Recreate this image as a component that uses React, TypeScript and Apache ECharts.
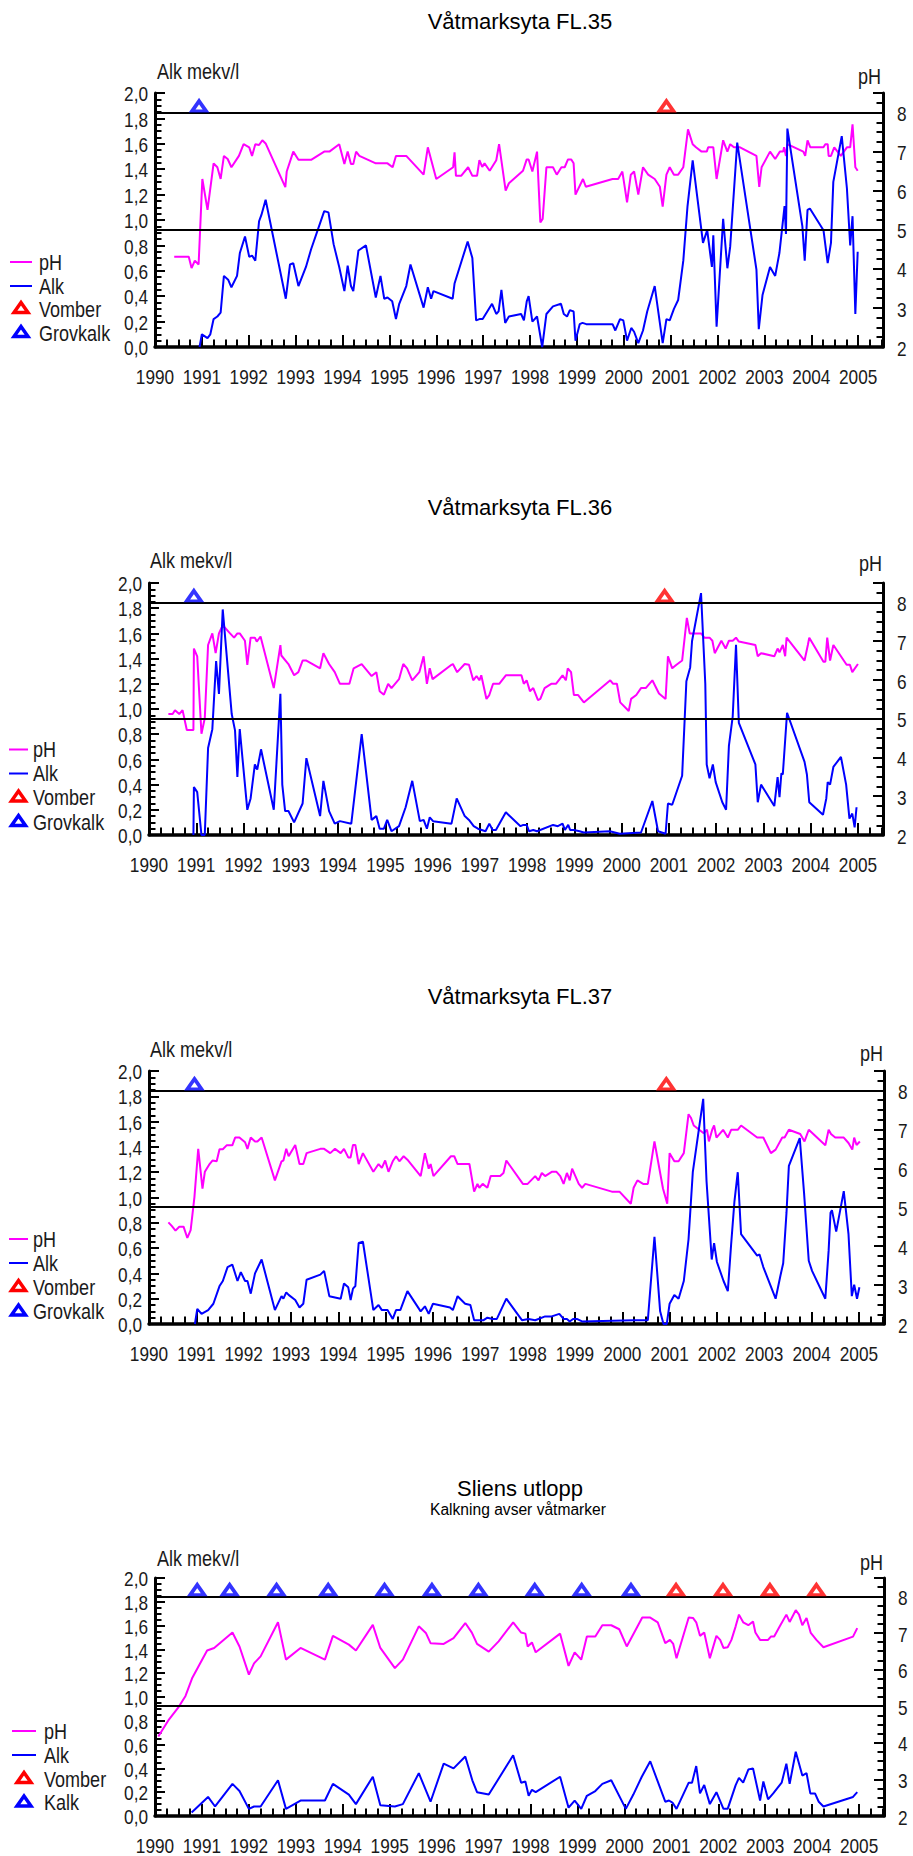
import React, { useEffect, useRef } from "react";
import * as echarts from "echarts";

// ---------- DATA ----------
const titles = ["Våtmarksyta FL.35", "Våtmarksyta FL.36", "Våtmarksyta FL.37", "Sliens utlopp"];
const subtitle4 = "Kalkning avser våtmarker";
const legendNames = [
  ["pH", "Alk", "Vomber", "Grovkalk"],
  ["pH", "Alk", "Vomber", "Grovkalk"],
  ["pH", "Alk", "Vomber", "Grovkalk"],
  ["pH", "Alk", "Vomber", "Kalk"],
];
const refLinesPH = [5, 8];
const yearTicks = [1990, 1991, 1992, 1993, 1994, 1995, 1996, 1997, 1998, 1999, 2000, 2001, 2002, 2003, 2004, 2005];
const alkTicks = [0, 0.2, 0.4, 0.6, 0.8, 1.0, 1.2, 1.4, 1.6, 1.8, 2.0];
const phTicks = [2, 3, 4, 5, 6, 7, 8];

const fl35_pH: [number, number][] = [[1990.41,4.31],[1990.72,4.31],[1990.78,4.02],[1990.85,4.21],[1990.93,4.11],[1991.01,6.30],[1991.12,5.51],[1991.25,6.70],[1991.33,6.60],[1991.40,6.30],[1991.47,6.89],[1991.55,6.81],[1991.63,6.60],[1991.79,6.89],[1991.89,7.19],[1992.01,7.11],[1992.07,6.89],[1992.14,7.19],[1992.22,7.17],[1992.29,7.29],[1992.36,7.21],[1992.78,6.09],[1992.81,6.49],[1992.95,7.00],[1993.06,6.79],[1993.33,6.79],[1993.61,7.00],[1993.72,7.00],[1993.93,7.19],[1994.04,6.68],[1994.11,7.00],[1994.18,6.68],[1994.23,6.68],[1994.29,7.00],[1994.36,6.89],[1994.71,6.70],[1994.96,6.70],[1995.07,6.60],[1995.14,6.89],[1995.36,6.89],[1995.73,6.41],[1995.82,7.11],[1996.00,6.30],[1996.36,6.60],[1996.39,6.98],[1996.42,6.38],[1996.53,6.38],[1996.68,6.60],[1996.77,6.38],[1996.87,6.38],[1996.92,6.78],[1996.98,6.61],[1997.03,6.70],[1997.14,6.51],[1997.28,6.78],[1997.34,7.19],[1997.48,6.00],[1997.55,6.19],[1997.85,6.51],[1997.93,6.80],[1997.97,6.80],[1998.05,6.49],[1998.15,7.00],[1998.22,5.19],[1998.27,5.28],[1998.35,6.60],[1998.49,6.60],[1998.57,6.41],[1998.67,6.60],[1998.74,6.60],[1998.81,6.80],[1998.88,6.80],[1998.93,6.70],[1998.97,5.90],[1999.13,6.30],[1999.19,6.10],[1999.76,6.30],[1999.88,6.30],[1999.97,6.49],[2000.07,5.70],[2000.15,6.41],[2000.22,6.49],[2000.31,5.90],[2000.41,6.60],[2000.52,6.41],[2000.66,6.30],[2000.77,6.10],[2000.83,5.59],[2000.91,6.41],[2000.98,6.60],[2001.07,6.41],[2001.16,6.41],[2001.27,6.60],[2001.37,7.57],[2001.47,7.19],[2001.54,7.11],[2001.66,7.00],[2001.77,7.00],[2001.80,7.11],[2001.91,7.11],[2001.98,6.30],[2002.12,7.29],[2002.21,7.00],[2002.27,7.19],[2002.35,7.11],[2002.48,7.11],[2002.83,6.89],[2002.89,6.10],[2002.94,6.60],[2003.12,7.00],[2003.23,6.81],[2003.33,7.00],[2003.40,7.00],[2003.42,7.11],[2003.46,6.89],[2003.49,7.19],[2003.83,7.00],[2003.87,6.89],[2003.92,7.29],[2003.98,7.11],[2004.26,7.11],[2004.30,7.19],[2004.35,7.19],[2004.37,6.89],[2004.42,6.89],[2004.49,7.11],[2004.63,6.89],[2004.76,7.11],[2004.83,7.11],[2004.88,7.70],[2004.94,6.60],[2004.99,6.51]];
const fl35_alk: [number, number][] = [[1990.95,0.00],[1991.00,0.10],[1991.12,0.07],[1991.18,0.10],[1991.25,0.22],[1991.33,0.24],[1991.40,0.27],[1991.47,0.56],[1991.56,0.53],[1991.63,0.47],[1991.75,0.56],[1991.81,0.74],[1991.92,0.87],[1992.01,0.71],[1992.07,0.72],[1992.14,0.68],[1992.22,0.99],[1992.27,1.04],[1992.36,1.16],[1992.79,0.38],[1992.88,0.65],[1992.95,0.66],[1993.06,0.48],[1993.22,0.63],[1993.33,0.77],[1993.61,1.07],[1993.70,1.06],[1993.81,0.81],[1993.93,0.63],[1994.04,0.44],[1994.11,0.64],[1994.18,0.48],[1994.23,0.44],[1994.34,0.76],[1994.50,0.80],[1994.71,0.39],[1994.81,0.56],[1994.89,0.38],[1994.96,0.39],[1995.06,0.36],[1995.14,0.22],[1995.21,0.34],[1995.36,0.48],[1995.45,0.65],[1995.73,0.31],[1995.82,0.47],[1995.89,0.38],[1995.94,0.44],[1996.35,0.38],[1996.39,0.50],[1996.67,0.83],[1996.77,0.70],[1996.85,0.21],[1996.92,0.22],[1996.99,0.22],[1997.19,0.34],[1997.28,0.26],[1997.33,0.28],[1997.39,0.45],[1997.47,0.19],[1997.55,0.24],[1997.81,0.26],[1997.87,0.21],[1997.93,0.36],[1997.97,0.40],[1998.05,0.20],[1998.15,0.24],[1998.26,0.00],[1998.35,0.26],[1998.49,0.32],[1998.66,0.34],[1998.72,0.26],[1998.79,0.24],[1998.85,0.29],[1998.93,0.28],[1998.97,0.05],[1999.06,0.18],[1999.12,0.19],[1999.20,0.18],[1999.76,0.18],[1999.82,0.13],[1999.92,0.22],[1999.99,0.21],[2000.07,0.05],[2000.16,0.15],[2000.22,0.12],[2000.31,0.03],[2000.41,0.13],[2000.50,0.28],[2000.66,0.48],[2000.83,0.03],[2000.91,0.22],[2000.98,0.21],[2001.07,0.30],[2001.16,0.37],[2001.27,0.68],[2001.36,1.11],[2001.47,1.47],[2001.69,0.82],[2001.78,0.92],[2001.88,0.63],[2001.91,0.88],[2001.98,0.16],[2002.12,1.01],[2002.21,0.62],[2002.27,0.79],[2002.42,1.61],[2002.83,0.61],[2002.88,0.14],[2002.96,0.41],[2003.12,0.63],[2003.23,0.56],[2003.32,0.74],[2003.43,1.11],[2003.46,0.89],[2003.49,1.72],[2003.81,0.95],[2003.86,0.68],[2003.92,1.08],[2003.97,1.09],[2004.26,0.92],[2004.35,0.66],[2004.42,0.82],[2004.47,1.30],[2004.65,1.66],[2004.76,1.25],[2004.83,0.80],[2004.88,1.03],[2004.94,0.26],[2004.99,0.75]];

const fl36_pH: [number, number][] = [[1990.41,5.12],[1990.50,5.12],[1990.55,5.22],[1990.64,5.12],[1990.71,5.22],[1990.80,4.71],[1990.94,4.71],[1990.95,6.81],[1991.02,6.61],[1991.11,4.61],[1991.18,5.01],[1991.25,6.90],[1991.34,7.20],[1991.41,6.69],[1991.48,7.20],[1991.56,7.41],[1991.70,7.22],[1991.80,7.09],[1991.87,7.20],[1991.92,7.20],[1992.03,7.01],[1992.08,6.39],[1992.15,7.09],[1992.24,7.09],[1992.28,6.99],[1992.36,7.12],[1992.64,5.79],[1992.78,6.90],[1992.80,6.63],[1992.95,6.41],[1993.07,6.12],[1993.16,6.20],[1993.25,6.50],[1993.33,6.50],[1993.62,6.30],[1993.69,6.69],[1993.81,6.41],[1993.93,6.20],[1994.04,5.90],[1994.24,5.90],[1994.33,6.30],[1994.50,6.41],[1994.71,6.10],[1994.81,6.20],[1994.88,5.71],[1994.97,5.62],[1995.06,5.90],[1995.13,5.79],[1995.29,6.02],[1995.38,6.41],[1995.46,6.30],[1995.57,5.99],[1995.72,6.20],[1995.81,6.61],[1995.88,5.90],[1995.94,6.30],[1996.00,6.02],[1996.40,6.39],[1996.43,6.41],[1996.52,6.20],[1996.68,6.41],[1996.77,6.39],[1996.86,5.99],[1996.93,6.10],[1996.99,5.99],[1997.03,6.12],[1997.14,5.51],[1997.20,5.61],[1997.28,5.90],[1997.41,5.90],[1997.55,6.12],[1997.88,6.12],[1997.93,5.90],[1997.99,5.99],[1998.06,5.71],[1998.13,5.79],[1998.23,5.48],[1998.28,5.51],[1998.37,5.79],[1998.51,5.90],[1998.61,5.90],[1998.75,6.12],[1998.82,5.99],[1998.86,6.30],[1998.93,6.20],[1998.99,5.61],[1999.08,5.61],[1999.20,5.42],[1999.76,5.99],[1999.82,5.90],[1999.90,5.90],[1999.97,5.42],[2000.15,5.20],[2000.20,5.51],[2000.31,5.61],[2000.41,5.79],[2000.51,5.79],[2000.65,5.99],[2000.79,5.65],[2000.93,5.51],[2000.98,6.61],[2001.07,6.30],[2001.16,6.39],[2001.28,6.50],[2001.38,7.60],[2001.44,7.20],[2001.68,7.20],[2001.75,7.09],[2001.86,7.09],[2001.92,7.01],[2001.97,6.69],[2002.11,7.01],[2002.20,6.81],[2002.27,7.01],[2002.35,7.01],[2002.42,7.09],[2002.48,6.99],[2002.83,6.90],[2002.88,6.61],[2002.95,6.69],[2003.23,6.61],[2003.30,6.81],[2003.34,6.71],[2003.41,6.90],[2003.46,6.61],[2003.49,7.09],[2003.87,6.50],[2003.94,6.90],[2003.97,7.09],[2004.27,6.47],[2004.31,6.47],[2004.35,7.09],[2004.41,6.50],[2004.48,6.90],[2004.76,6.39],[2004.83,6.39],[2004.88,6.20],[2005.00,6.41]];
const fl36_alk: [number, number][] = [[1990.94,0.00],[1990.95,0.38],[1991.02,0.34],[1991.11,0.00],[1991.18,0.00],[1991.25,0.69],[1991.34,0.84],[1991.42,1.38],[1991.48,1.12],[1991.56,1.79],[1991.75,0.96],[1991.82,0.83],[1991.87,0.46],[1991.92,0.84],[1992.08,0.20],[1992.15,0.29],[1992.24,0.56],[1992.29,0.52],[1992.37,0.68],[1992.64,0.20],[1992.78,1.12],[1992.82,0.40],[1992.88,0.19],[1992.95,0.19],[1993.07,0.10],[1993.25,0.25],[1993.33,0.61],[1993.62,0.15],[1993.69,0.43],[1993.81,0.19],[1993.93,0.09],[1994.04,0.11],[1994.28,0.09],[1994.50,0.80],[1994.71,0.12],[1994.81,0.15],[1994.88,0.05],[1994.97,0.05],[1995.04,0.12],[1995.13,0.03],[1995.29,0.07],[1995.43,0.22],[1995.57,0.43],[1995.73,0.11],[1995.81,0.12],[1995.88,0.05],[1995.94,0.14],[1996.01,0.11],[1996.40,0.09],[1996.51,0.29],[1996.68,0.15],[1996.77,0.12],[1996.87,0.07],[1996.96,0.05],[1997.12,0.03],[1997.20,0.09],[1997.27,0.04],[1997.34,0.04],[1997.55,0.18],[1997.86,0.07],[1997.92,0.08],[1997.99,0.08],[1998.04,0.03],[1998.13,0.04],[1998.21,0.03],[1998.55,0.08],[1998.65,0.07],[1998.75,0.09],[1998.80,0.04],[1998.87,0.08],[1998.91,0.04],[1998.99,0.04],[1999.11,0.03],[1999.20,0.02],[1999.75,0.03],[1999.96,0.01],[2000.41,0.02],[2000.65,0.27],[2000.77,0.03],[2000.93,0.01],[2000.98,0.25],[2001.07,0.24],[2001.28,0.47],[2001.37,1.22],[2001.45,1.33],[2001.49,1.54],[2001.68,1.92],[2001.77,1.20],[2001.80,0.56],[2001.86,0.45],[2001.93,0.56],[2001.99,0.42],[2002.13,0.26],[2002.21,0.20],[2002.27,0.71],[2002.35,0.94],[2002.42,1.51],[2002.48,0.89],[2002.83,0.56],[2002.88,0.26],[2002.95,0.40],[2003.23,0.23],[2003.30,0.46],[2003.34,0.30],[2003.38,0.49],[2003.41,0.48],[2003.50,0.97],[2003.87,0.58],[2003.92,0.48],[2003.97,0.26],[2004.26,0.16],[2004.33,0.29],[2004.36,0.42],[2004.41,0.40],[2004.48,0.54],[2004.64,0.62],[2004.75,0.40],[2004.82,0.13],[2004.88,0.17],[2004.93,0.06],[2004.97,0.22]];

const fl37_pH: [number, number][] = [[1990.41,4.61],[1990.48,4.52],[1990.56,4.40],[1990.64,4.50],[1990.73,4.50],[1990.81,4.21],[1990.88,4.41],[1990.96,5.26],[1991.04,6.50],[1991.13,5.48],[1991.18,5.91],[1991.28,6.11],[1991.34,6.20],[1991.43,6.18],[1991.49,6.49],[1991.56,6.49],[1991.64,6.59],[1991.76,6.59],[1991.82,6.79],[1991.91,6.79],[1992.03,6.67],[1992.08,6.50],[1992.15,6.79],[1992.24,6.69],[1992.29,6.69],[1992.38,6.79],[1992.66,5.69],[1992.80,6.18],[1992.84,6.20],[1992.90,6.50],[1992.95,6.31],[1993.09,6.60],[1993.18,6.11],[1993.26,6.11],[1993.33,6.39],[1993.62,6.50],[1993.70,6.50],[1993.83,6.39],[1993.93,6.50],[1994.05,6.39],[1994.12,6.50],[1994.21,6.28],[1994.26,6.28],[1994.31,6.60],[1994.36,6.60],[1994.43,6.11],[1994.52,6.39],[1994.74,5.91],[1994.85,6.11],[1994.92,6.01],[1994.99,6.20],[1995.06,5.91],[1995.15,6.18],[1995.22,6.31],[1995.29,6.18],[1995.38,6.31],[1995.46,6.22],[1995.74,5.80],[1995.83,6.39],[1995.91,5.99],[1995.95,6.11],[1996.01,5.80],[1996.38,6.31],[1996.45,6.31],[1996.52,6.11],[1996.77,6.11],[1996.87,5.40],[1996.94,5.60],[1996.98,5.50],[1997.05,5.60],[1997.15,5.50],[1997.22,5.80],[1997.42,5.80],[1997.49,5.88],[1997.55,6.20],[1997.90,5.60],[1998.00,5.60],[1998.16,5.80],[1998.23,5.69],[1998.30,5.88],[1998.37,5.80],[1998.51,5.91],[1998.61,5.91],[1998.69,5.80],[1998.76,5.60],[1998.83,5.88],[1998.89,5.69],[1998.94,5.99],[1999.08,5.60],[1999.15,5.50],[1999.22,5.60],[1999.78,5.40],[1999.94,5.40],[2000.18,5.09],[2000.24,5.50],[2000.32,5.69],[2000.44,5.60],[2000.54,5.60],[2000.68,6.69],[2000.86,5.48],[2000.95,5.09],[2001.00,6.39],[2001.10,6.18],[2001.19,6.18],[2001.30,6.39],[2001.40,7.39],[2001.45,7.30],[2001.51,7.10],[2001.72,6.90],[2001.79,6.99],[2001.83,6.69],[2001.90,6.99],[2001.94,7.10],[2001.99,6.79],[2002.13,6.99],[2002.23,6.79],[2002.30,6.99],[2002.44,6.99],[2002.51,7.10],[2002.85,6.79],[2002.98,6.79],[2003.14,6.39],[2003.24,6.48],[2003.38,6.79],[2003.43,6.79],[2003.47,6.88],[2003.52,6.99],[2003.76,6.88],[2003.85,6.69],[2003.94,6.99],[2004.29,6.59],[2004.36,6.99],[2004.41,6.88],[2004.50,6.79],[2004.68,6.79],[2004.78,6.65],[2004.86,6.48],[2004.90,6.79],[2004.95,6.60],[2005.02,6.69]];
const fl37_alk: [number, number][] = [[1990.97,0.00],[1991.02,0.12],[1991.11,0.08],[1991.25,0.11],[1991.36,0.16],[1991.49,0.30],[1991.56,0.34],[1991.66,0.45],[1991.76,0.47],[1991.87,0.34],[1991.94,0.41],[1992.03,0.34],[1992.08,0.34],[1992.15,0.24],[1992.24,0.40],[1992.38,0.51],[1992.66,0.11],[1992.80,0.22],[1992.84,0.20],[1992.90,0.25],[1992.95,0.23],[1993.09,0.19],[1993.18,0.13],[1993.26,0.16],[1993.33,0.35],[1993.62,0.39],[1993.70,0.42],[1993.81,0.22],[1994.05,0.20],[1994.12,0.32],[1994.21,0.29],[1994.26,0.19],[1994.31,0.28],[1994.36,0.30],[1994.43,0.64],[1994.52,0.65],[1994.74,0.11],[1994.85,0.15],[1994.92,0.11],[1995.04,0.11],[1995.15,0.04],[1995.22,0.11],[1995.31,0.11],[1995.46,0.26],[1995.74,0.10],[1995.83,0.14],[1995.91,0.08],[1996.00,0.16],[1996.36,0.13],[1996.42,0.11],[1996.52,0.22],[1996.68,0.16],[1996.79,0.15],[1996.87,0.03],[1997.07,0.03],[1997.15,0.05],[1997.26,0.04],[1997.35,0.04],[1997.55,0.20],[1997.88,0.03],[1998.02,0.04],[1998.16,0.03],[1998.37,0.06],[1998.51,0.06],[1998.67,0.08],[1998.76,0.04],[1998.83,0.04],[1998.89,0.02],[1998.96,0.04],[1999.04,0.04],[1999.15,0.02],[2000.24,0.03],[2000.54,0.03],[2000.68,0.69],[2000.80,0.10],[2000.87,0.00],[2000.94,0.00],[2001.00,0.16],[2001.10,0.23],[2001.19,0.20],[2001.30,0.34],[2001.40,0.67],[2001.49,1.20],[2001.71,1.78],[2001.78,1.13],[2001.89,0.51],[2001.94,0.64],[2002.00,0.49],[2002.14,0.34],[2002.23,0.26],[2002.30,0.63],[2002.37,0.97],[2002.44,1.20],[2002.51,0.71],[2002.85,0.54],[2002.90,0.55],[2002.98,0.45],[2003.24,0.20],[2003.34,0.38],[2003.40,0.48],[2003.47,0.88],[2003.52,1.25],[2003.75,1.47],[2003.84,1.04],[2003.94,0.50],[2004.01,0.42],[2004.29,0.20],[2004.36,0.58],[2004.40,0.88],[2004.43,0.90],[2004.52,0.73],[2004.68,1.05],[2004.78,0.71],[2004.85,0.22],[2004.90,0.31],[2004.96,0.20],[2005.01,0.29]];

const sliens_pH: [number, number][] = [[1990.07,4.17],[1990.30,4.64],[1990.51,4.99],[1990.65,5.28],[1990.79,5.76],[1991.11,6.52],[1991.26,6.59],[1991.65,7.01],[1991.80,6.63],[1992.00,5.86],[1992.11,6.17],[1992.25,6.36],[1992.62,7.29],[1992.79,6.27],[1993.10,6.59],[1993.62,6.27],[1993.79,6.92],[1994.13,6.68],[1994.28,6.52],[1994.64,7.22],[1994.80,6.59],[1995.11,6.04],[1995.28,6.27],[1995.62,7.18],[1995.77,7.00],[1995.87,6.72],[1996.15,6.70],[1996.36,6.86],[1996.61,7.27],[1996.75,7.01],[1996.86,6.70],[1997.11,6.49],[1997.32,6.77],[1997.63,7.29],[1997.80,7.01],[1997.89,6.98],[1997.94,6.63],[1998.03,6.74],[1998.11,6.47],[1998.63,6.98],[1998.81,6.10],[1998.94,6.47],[1999.08,6.27],[1999.20,6.90],[1999.38,6.90],[1999.53,7.21],[1999.72,7.21],[1999.89,7.10],[2000.05,6.63],[2000.38,7.42],[2000.55,7.42],[2000.71,7.29],[2000.87,6.72],[2000.97,6.81],[2001.04,6.70],[2001.11,6.31],[2001.37,7.42],[2001.46,7.41],[2001.53,7.29],[2001.61,6.92],[2001.70,7.01],[2001.82,6.31],[2001.96,6.92],[2002.04,6.81],[2002.11,6.59],[2002.20,6.61],[2002.28,6.81],[2002.37,7.18],[2002.44,7.50],[2002.53,7.29],[2002.64,7.21],[2002.74,7.31],[2002.79,7.01],[2002.89,6.81],[2003.06,6.81],[2003.12,6.90],[2003.19,6.90],[2003.31,7.18],[2003.45,7.50],[2003.52,7.30],[2003.65,7.62],[2003.72,7.50],[2003.79,7.21],[2003.88,7.41],[2003.97,7.00],[2004.09,6.81],[2004.24,6.61],[2004.87,6.90],[2004.96,7.13]];
const sliens_alk: [number, number][] = [[1990.78,0.03],[1991.13,0.16],[1991.28,0.08],[1991.65,0.27],[1991.80,0.21],[1992.00,0.06],[1992.11,0.08],[1992.25,0.08],[1992.62,0.30],[1992.79,0.06],[1993.10,0.13],[1993.28,0.13],[1993.62,0.13],[1993.79,0.27],[1994.13,0.18],[1994.28,0.10],[1994.64,0.33],[1994.80,0.09],[1995.11,0.08],[1995.28,0.10],[1995.62,0.36],[1995.87,0.12],[1996.15,0.44],[1996.36,0.40],[1996.61,0.50],[1996.76,0.30],[1996.86,0.20],[1997.11,0.18],[1997.63,0.51],[1997.80,0.28],[1997.89,0.29],[1997.96,0.17],[1998.03,0.22],[1998.11,0.20],[1998.63,0.33],[1998.81,0.07],[1998.94,0.13],[1999.08,0.06],[1999.20,0.17],[1999.38,0.21],[1999.53,0.27],[1999.72,0.30],[2000.03,0.06],[2000.19,0.18],[2000.37,0.33],[2000.55,0.46],[2000.87,0.12],[2000.95,0.13],[2001.03,0.11],[2001.11,0.06],[2001.37,0.28],[2001.44,0.28],[2001.53,0.42],[2001.61,0.19],[2001.70,0.26],[2001.82,0.10],[2001.96,0.20],[2002.11,0.06],[2002.20,0.06],[2002.37,0.26],[2002.44,0.32],[2002.53,0.28],[2002.64,0.39],[2002.74,0.40],[2002.89,0.13],[2002.96,0.29],[2003.06,0.14],[2003.17,0.19],[2003.35,0.28],[2003.45,0.44],[2003.52,0.27],[2003.65,0.54],[2003.79,0.34],[2003.88,0.36],[2003.96,0.19],[2004.06,0.19],[2004.14,0.12],[2004.24,0.08],[2004.87,0.16],[2004.96,0.20]];

// liming events (year)
const fl35_blue = [1990.94];
const fl35_red = [2000.91];
const fl36_blue = [1990.95];
const fl36_red = [2000.91];
const fl37_blue = [1990.96];
const fl37_red = [2000.93];
const sliens_blue = [1990.9, 1991.59, 1992.59, 1993.69, 1994.89, 1995.9, 1996.89, 1998.09, 1999.09, 2000.14];
const sliens_red = [2001.1, 2002.1, 2003.1, 2004.09];

const phData = [fl35_pH, fl36_pH, fl37_pH, sliens_pH];
const alkData = [fl35_alk, fl36_alk, fl37_alk, sliens_alk];
const blueData = [fl35_blue, fl36_blue, fl37_blue, sliens_blue];
const redData = [fl35_red, fl36_red, fl37_red, sliens_red];

// ---------- LAYOUT ----------
const FONT = '"Liberation Sans", Arial, sans-serif';
const NARROW = 0.82; // emulate Arial Narrow
const MAGENTA = "#ff00ff";
const BLUE = "#0000ff";
const RED = "#ff0000";
const TXT = "#1a1a1a";

const layout = [
  { top: 93, height: 254, left: 155, right: 30, titleY: 21, alkX: 157, alkY: 71, phX: 881, phY: 76,
    lg: { x1: 10, x2: 32, tx: 39, ys: [262, 286, 309, 333] } },
  { top: 583, height: 252, left: 149, right: 30, titleY: 507, alkX: 150, alkY: 560, phX: 882, phY: 563,
    lg: { x1: 9, x2: 28, tx: 33, ys: [749.5, 773.5, 797.5, 822] } },
  { top: 1071, height: 253, left: 149, right: 29, titleY: 996, alkX: 150, alkY: 1049, phX: 883, phY: 1053,
    lg: { x1: 9, x2: 28, tx: 33, ys: [1239, 1263, 1287, 1311.5] } },
  { top: 1578, height: 238, left: 155, right: 29, titleY: 1488, alkX: 157, alkY: 1558, phX: 883, phY: 1562,
    lg: { x1: 12, x2: 36, tx: 44, ys: [1731, 1755, 1779, 1802.5] } },
];

const narrowText = (text: string, x: number, y: number, align: string, size = 21) => ({
  type: "text", x, y, scaleX: NARROW, silent: true,
  style: { text, fontSize: size, fontFamily: FONT, fill: TXT, textAlign: align, textVerticalAlign: "middle" },
});

const tickCommon = {
  axisTick: { show: true, inside: true, length: 10, lineStyle: { color: "#000", width: 2 } },
  minorTick: { show: true, splitNumber: 4, length: 6.5, lineStyle: { color: "#000", width: 2 } },
  axisLabel: { show: false },
  splitLine: { show: false },
};

function buildBase() {
  const grid: any[] = [];
  const xAxis: any[] = [];
  const yAxis: any[] = [];
  const series: any[] = [];
  const elements: any[] = [];

  layout.forEach((L, i) => {
    grid.push({ left: L.left, right: L.right, top: L.top, height: L.height });
    xAxis.push({
      type: "value", gridIndex: i, min: 1990, max: 2005.53, interval: 1,
      axisLine: { show: true, onZero: false, lineStyle: { color: "#000", width: 3.5 } },
      ...tickCommon,
      axisTick: { show: true, inside: true, length: 12, lineStyle: { color: "#000", width: 2 } },
      minorTick: { show: true, splitNumber: 4, length: 7.5, lineStyle: { color: "#000", width: 2 } },
    });
    yAxis.push({
      type: "value", gridIndex: i, position: "left", min: 0, max: 2, interval: 0.2,
      axisLine: { show: true, onZero: false, lineStyle: { color: "#000", width: 3 } },
      ...tickCommon,
    });
    yAxis.push({
      type: "value", gridIndex: i, position: "right", min: 2, max: 8.5, interval: 1,
      axisLine: { show: true, onZero: false, lineStyle: { color: "#000", width: 3 } },
      ...tickCommon,
    });

    series.push({
      type: "line", name: "pH", xAxisIndex: i, yAxisIndex: 2 * i + 1,
      data: phData[i], symbol: "none", lineStyle: { color: MAGENTA, width: 2 }, itemStyle: { color: MAGENTA },
      markLine: {
        silent: true, symbol: ["none", "none"], label: { show: false },
        lineStyle: { color: "#000", width: 2, type: "solid" },
        data: refLinesPH.map((v) => ({ yAxis: v })),
      },
      z: 3,
    });
    series.push({
      type: "line", name: "Alk", xAxisIndex: i, yAxisIndex: 2 * i,
      data: alkData[i], symbol: "none", lineStyle: { color: BLUE, width: 2 }, itemStyle: { color: BLUE },
      z: 3,
    });
    const tri = (name: string, color: string, years: number[]) => ({
      type: "scatter", name, xAxisIndex: i, yAxisIndex: 2 * i + 1,
      data: years.map((y) => [y, 8]),
      symbol: "triangle", symbolSize: [14, 10], symbolOffset: [0, -6.5],
      itemStyle: { color: "#ffffff", borderColor: color, borderWidth: 3.5 },
      z: 5,
    });
    series.push(tri("Vomber", RED, redData[i]));
    series.push(tri(legendNames[i][3], BLUE, blueData[i]));

    // titles
    elements.push({
      type: "text", x: 520, y: L.titleY, silent: true,
      style: { text: titles[i], fontSize: 22, fontFamily: FONT, fill: "#000", textAlign: "center", textVerticalAlign: "middle" },
    });
    if (i === 3) {
      elements.push({
        type: "text", x: 518, y: 1509, silent: true,
        style: { text: subtitle4, fontSize: 15.6, fontFamily: FONT, fill: "#000", textAlign: "center", textVerticalAlign: "middle" },
      });
    }
    elements.push(narrowText("Alk mekv/l", L.alkX, L.alkY, "left", 22));
    elements.push(narrowText("pH", L.phX, L.phY, "right", 22));
    // legend
    const lg = L.lg;
    const cx = (lg.x1 + lg.x2) / 2;
    elements.push({ type: "line", silent: true, shape: { x1: lg.x1, y1: lg.ys[0], x2: lg.x2, y2: lg.ys[0] }, style: { stroke: MAGENTA, lineWidth: 2 } });
    elements.push({ type: "line", silent: true, shape: { x1: lg.x1, y1: lg.ys[1], x2: lg.x2, y2: lg.ys[1] }, style: { stroke: BLUE, lineWidth: 2 } });
    [RED, BLUE].forEach((c, k) => {
      const yy = lg.ys[2 + k] - 1.5;
      elements.push({
        type: "polygon", silent: true,
        shape: { points: [[cx - 7, yy + 5], [cx + 7, yy + 5], [cx, yy - 5]] },
        style: { fill: "#ffffff", stroke: c, lineWidth: 3.5, lineJoin: "miter" },
      });
    });
    legendNames[i].forEach((nm, k) => {
      elements.push(narrowText(nm, lg.tx, lg.ys[k], "left", 22));
    });
  });

  return { option: { animation: false, backgroundColor: "#ffffff", grid, xAxis, yAxis, series }, elements };
}

export default function App() {
  const ref = useRef<HTMLDivElement>(null);
  useEffect(() => {
    document.body.style.margin = "0";
    const chart = echarts.init(ref.current as HTMLDivElement, null, { renderer: "svg" });
    const { option, elements } = buildBase();
    chart.setOption(option as any);
    // tick labels placed through the axes' own scales (narrow font emulation)
    const labels: any[] = [];
    layout.forEach((L, i) => {
      const yBottom = chart.convertToPixel({ yAxisIndex: 2 * i } as any, 0) as number;
      const xLeft = chart.convertToPixel({ xAxisIndex: i } as any, 1990) as number;
      const xRight = chart.convertToPixel({ xAxisIndex: i } as any, 2005.53) as number;
      yearTicks.forEach((yr) => {
        const px = chart.convertToPixel({ xAxisIndex: i } as any, yr) as number;
        labels.push(narrowText(String(yr), px, yBottom + 30, "center"));
      });
      alkTicks.forEach((v) => {
        const py = chart.convertToPixel({ yAxisIndex: 2 * i } as any, v) as number;
        labels.push(narrowText(v.toFixed(1).replace(".", ","), xLeft - 7, py + 1, "right"));
      });
      phTicks.forEach((v) => {
        const py = chart.convertToPixel({ yAxisIndex: 2 * i + 1 } as any, v) as number;
        labels.push(narrowText(String(v), xRight + 14, py + 1.5, "left"));
      });
    });
    chart.setOption({ graphic: { elements: [...elements, ...labels] } } as any);
    return () => chart.dispose();
  }, []);
  return <div ref={ref} style={{ width: 913, height: 1856, background: "#fff" }} />;
}
